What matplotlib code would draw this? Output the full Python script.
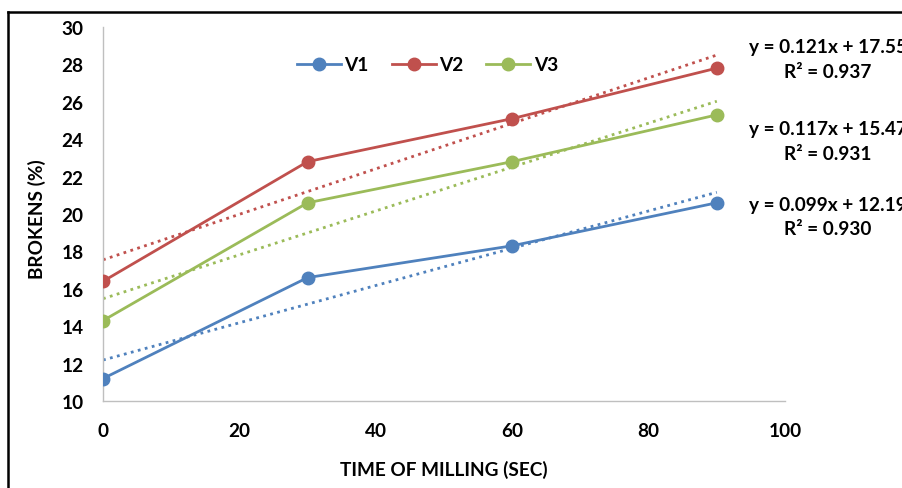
import matplotlib
matplotlib.use("Agg")
import matplotlib.pyplot as plt
from matplotlib.lines import Line2D
import numpy as np

plt.rcParams['font.family'] = ['Lato', 'DejaVu Sans']
plt.rcParams['font.weight'] = 'bold'

time_sec = [0, 30, 60, 90]
v1 = [11.2, 16.6, 18.3, 20.6]
v2 = [16.4, 22.8, 25.1, 27.8]
v3 = [14.3, 20.6, 22.8, 25.3]
series_names = ['V1', 'V2', 'V3']
colors = ['#4F81BD', '#C0504D', '#9BBB59']
eq_labels = ['y = 0.099x + 12.19', 'y = 0.121x + 17.55', 'y = 0.117x + 15.47']
r2_labels = ['R² = 0.930', 'R² = 0.937', 'R² = 0.931']
x_ticks = [0, 20, 40, 60, 80, 100]
y_ticks = [10, 12, 14, 16, 18, 20, 22, 24, 26, 28, 30]

FS = 13.7

fig = plt.figure(figsize=(9.03, 4.89), dpi=100)
ax = fig.add_axes([103/903, 1-402/489, (785-103)/903, (402-28)/489])

x = np.array(time_sec, dtype=float)
for name, ys, c in zip(series_names, [v1, v2, v3], colors):
    ax.plot(x, ys, color=c, lw=2.0, marker='o', ms=9, label=name, zorder=3)
    k, b = np.polyfit(x, ys, 1)
    ax.plot(x, k*x+b, color=c, lw=2.0, ls=(0, (1, 1.6)), zorder=2)

ax.set_xlim(0, 100)
ax.set_ylim(10, 30)
ax.set_xticks(x_ticks)
ax.set_yticks(y_ticks)
ax.tick_params(length=0, labelsize=FS, pad=14)
ax.tick_params(axis='x', pad=15)
for lab in ax.get_xticklabels() + ax.get_yticklabels():
    lab.set_fontweight('bold')
for s in ['top', 'right']:
    ax.spines[s].set_visible(False)
for s in ['left', 'bottom']:
    ax.spines[s].set_color('#BFBFBF')
    ax.spines[s].set_linewidth(1.0)

ax.set_xlabel('TIME OF MILLING (SEC)', fontsize=FS, fontweight='bold')
ax.set_ylabel('BROKENS (%)', fontsize=FS, fontweight='bold')
ax.xaxis.set_label_coords(0.5, -0.158)
ax.yaxis.set_label_coords(-0.084, 0.49)

leg = ax.legend(loc='center', bbox_to_anchor=(0.476, 0.899), ncol=3, frameon=False,
                handlelength=2.3, columnspacing=1.2, handletextpad=0.2,
                prop={'weight': 'bold', 'size': FS})

eq_y = [(206, 230), (47, 72), (130, 155)]
for (ye, yr), eq, r2 in zip(eq_y, eq_labels, r2_labels):
    fig.text(828/903, 1-ye/489, eq, ha='center', va='center', fontsize=FS, fontweight='bold')
    fig.text(828/903, 1-yr/489, r2, ha='center', va='center', fontsize=FS, fontweight='bold')

fig.add_artist(Line2D([7.5/903, 1.0], [1-13/489, 1-13/489], color='black', lw=1.8, transform=fig.transFigure))
fig.add_artist(Line2D([7.5/903, 7.5/903], [0, 1-13/489], color='black', lw=1.8, transform=fig.transFigure))

fig.savefig('out.png', dpi=100)
